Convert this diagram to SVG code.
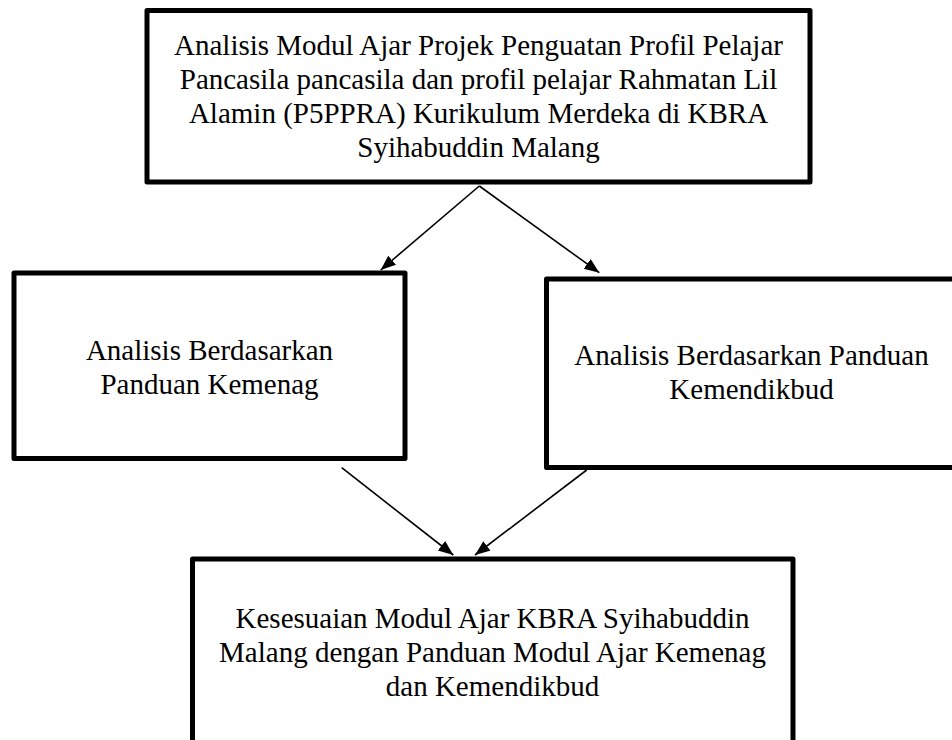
<svg xmlns="http://www.w3.org/2000/svg" width="952" height="740" viewBox="0 0 952 740">
<defs>
<style>
.box{fill:#fff;stroke:#000;stroke-width:5;stroke-linejoin:round}
.t{font-family:"Liberation Serif","Times New Roman",serif;font-size:29px;fill:#000;text-anchor:middle}
.c{stroke:#000;stroke-width:1.6;fill:none;marker-end:url(#ah)}
</style>
<marker id="ah" markerUnits="userSpaceOnUse" markerWidth="16" markerHeight="13" refX="15" refY="6" orient="auto">
<path d="M0,0 L15,6 L0,12 z" fill="#000"/>
</marker>
</defs>
<rect width="952" height="740" fill="#fff"/>
<g id="n-top">
<rect class="box" x="147" y="10.5" width="663" height="171.5"/>
<text class="t" x="478.5" y="55">Analisis Modul Ajar Projek Penguatan Profil Pelajar</text>
<text class="t" x="478.5" y="89">Pancasila pancasila dan profil pelajar Rahmatan Lil</text>
<text class="t" x="478.5" y="123">Alamin (P5PPRA) Kurikulum Merdeka di KBRA</text>
<text class="t" x="478.5" y="157">Syihabuddin Malang</text>
</g>
<g id="n-kemenag">
<rect class="box" x="14" y="273" width="391" height="185.5"/>
<text class="t" x="209.5" y="360">Analisis Berdasarkan</text>
<text class="t" x="209.5" y="394">Panduan Kemenag</text>
</g>
<g id="n-kemendikbud">
<rect class="box" x="546.5" y="279" width="420" height="188.5"/>
<text class="t" x="751.5" y="365">Analisis Berdasarkan Panduan</text>
<text class="t" x="751.5" y="399">Kemendikbud</text>
</g>
<g id="n-kesesuaian">
<rect class="box" x="192.5" y="559" width="600.5" height="200"/>
<text class="t" x="492.5" y="628">Kesesuaian Modul Ajar KBRA Syihabuddin</text>
<text class="t" x="492.5" y="662">Malang dengan Panduan Modul Ajar Kemenag</text>
<text class="t" x="492.5" y="696">dan Kemendikbud</text>
</g>
<g id="connectors">
<line class="c" x1="479.3" y1="186" x2="380.7" y2="270"/>
<line class="c" x1="479.3" y1="186" x2="599.3" y2="272.7"/>
<line class="c" x1="341.7" y1="467.7" x2="453.3" y2="555"/>
<line class="c" x1="586.7" y1="470" x2="475" y2="555"/>
</g>
</svg>
